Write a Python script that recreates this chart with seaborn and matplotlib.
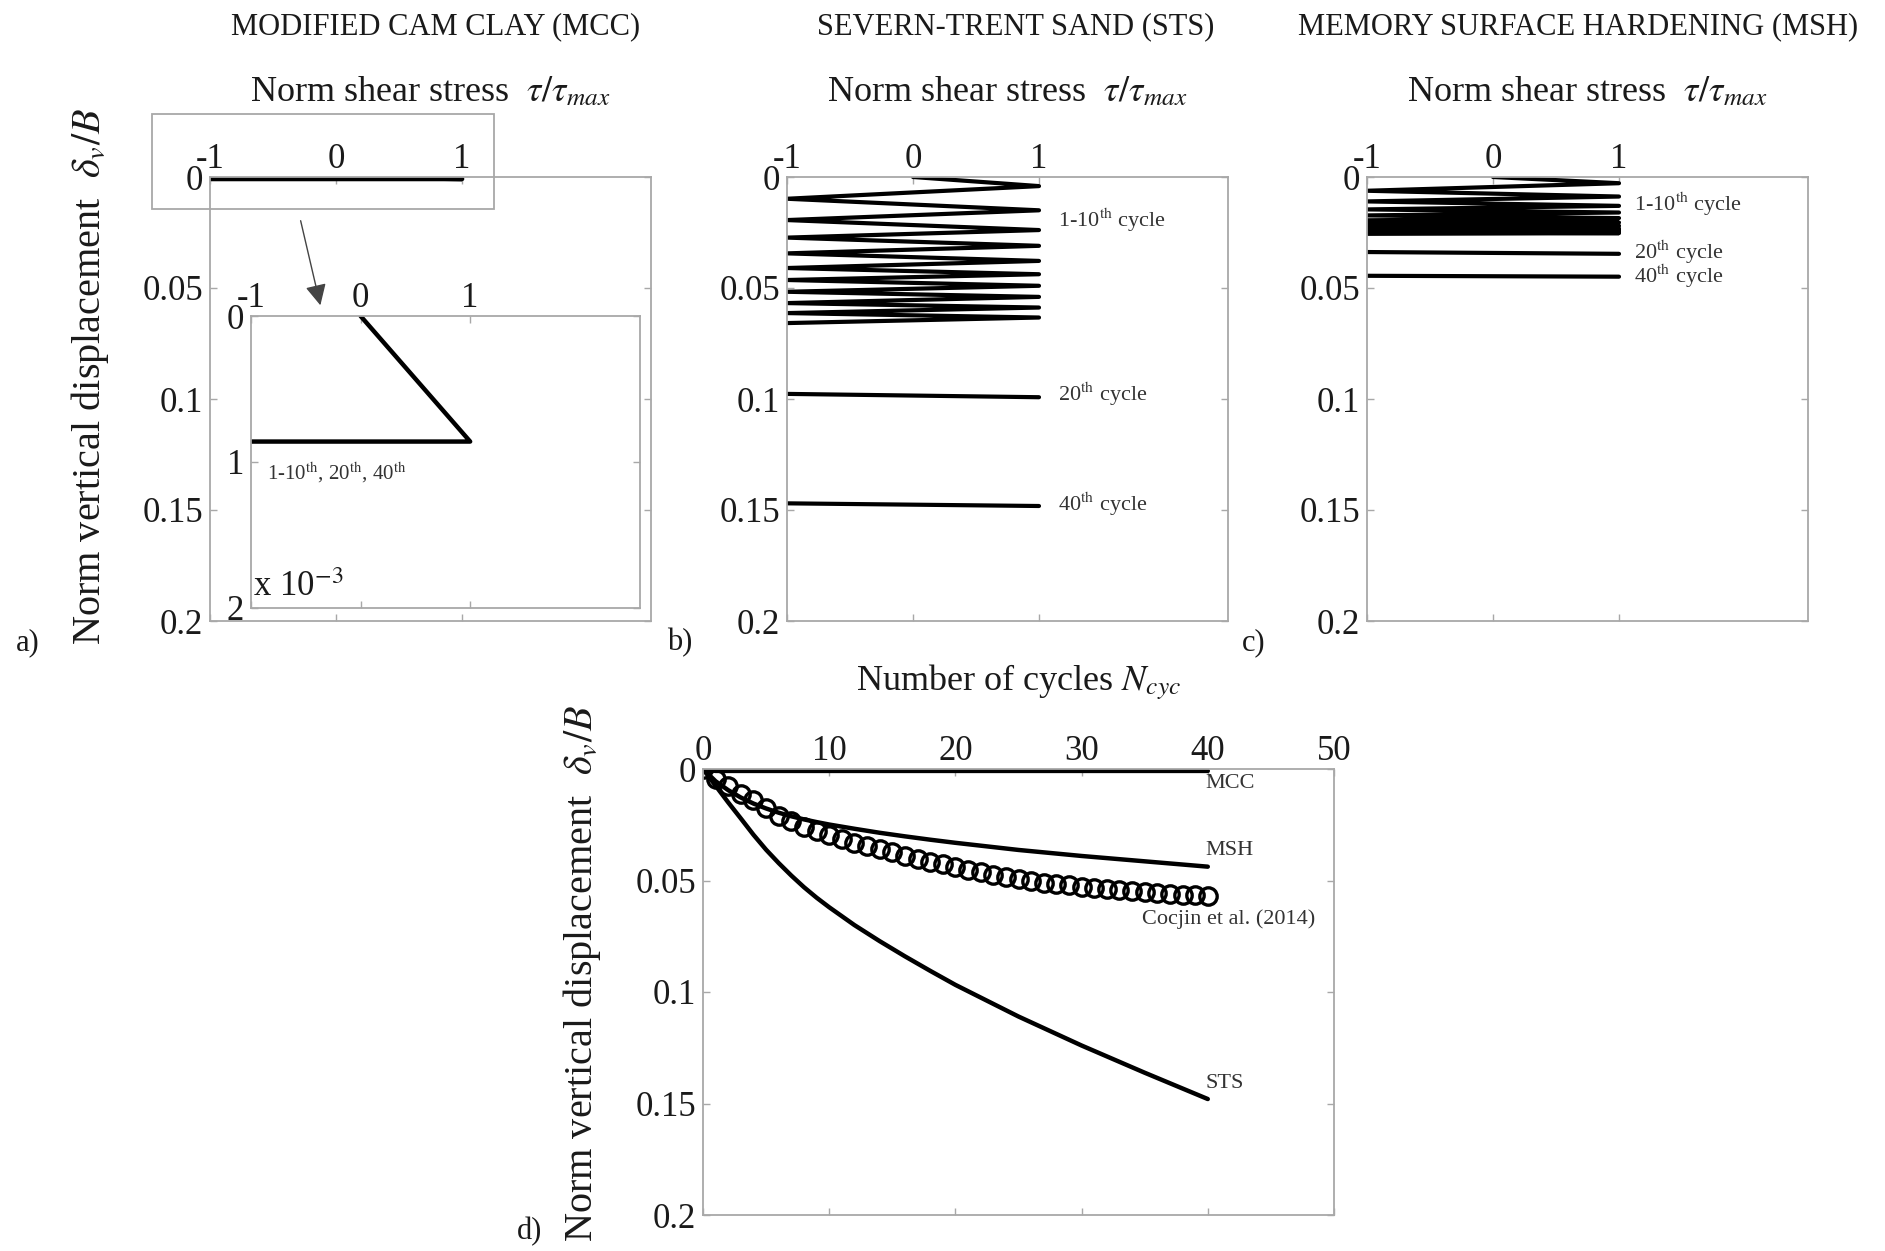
import numpy as np
import pandas as pd
import matplotlib
matplotlib.use("Agg")
import matplotlib.pyplot as plt
import matplotlib.patches as mpatches
import seaborn as sns

sns.set_theme(style="white")
plt.rcParams["font.family"] = ["Liberation Serif", "DejaVu Serif"]
plt.rcParams["mathtext.fontset"] = "stix"
plt.rcParams["axes.unicode_minus"] = False

# ---------------- data ----------------
tau_ticks = [-1, 0, 1]
disp_ticks = [0, 0.05, 0.1, 0.15, 0.2]
disp_ticklabels = ["0", "0.05", "0.1", "0.15", "0.2"]
cyc_ticks = [0, 10, 20, 30, 40, 50]
inset_ticks = [0, 1, 2]

# MCC stress path (tau/tau_max, delta_v/B)
mcc_tau = [0, 1, -1]
mcc_disp = [0, 0.00086, 0.00086]

# STS cycles 1-10: displacement at tau=+1 and tau=-1 turning points
sts_right = [0.0041, 0.0150, 0.0239, 0.0310, 0.0378, 0.0438, 0.0490, 0.0540, 0.0588, 0.0633]
sts_left = [0.0098, 0.0194, 0.0273, 0.0344, 0.0410, 0.0464, 0.0517, 0.0568, 0.0613, 0.0658]
sts_c20 = [0.0977, 0.0992]
sts_c40 = [0.1470, 0.1482]

# MSH cycles 1-10
msh_right = [0.0028, 0.0088, 0.0130, 0.0160, 0.0185, 0.0205, 0.0220, 0.0233, 0.0244, 0.0253]
msh_left = [0.0062, 0.0110, 0.0146, 0.0173, 0.0195, 0.0213, 0.0227, 0.0239, 0.0249, 0.0256]
msh_c20 = [0.0338, 0.0346]
msh_c40 = [0.0445, 0.0449]

single_tau = [-1, 1]

# Panel d: accumulated displacement vs number of cycles
model_cycles = [0, 1, 2, 3, 4, 5, 6, 7, 8, 9, 10, 12, 14, 16, 18, 20, 25, 30, 35, 40]
sts_curve = [0, 0.0075, 0.0150, 0.0222, 0.0295, 0.0362, 0.0422, 0.0478, 0.0530, 0.0577,
             0.0620, 0.0700, 0.0772, 0.0840, 0.0905, 0.0968, 0.1110, 0.1240, 0.1362, 0.1480]
msh_curve = [0, 0.0055, 0.0095, 0.0128, 0.0155, 0.0177, 0.0196, 0.0212, 0.0226, 0.0238,
             0.0249, 0.0268, 0.0286, 0.0302, 0.0317, 0.0331, 0.0363, 0.0390, 0.0414, 0.0438]
mcc_cycles = [0, 1, 40]
mcc_curve = [0, 0.00086, 0.00086]
exp_cycles = list(range(41))
exp_disp = [0.0, 0.0045, 0.0078, 0.0110, 0.0140, 0.0175, 0.0210, 0.0235, 0.0260, 0.0280,
            0.0298, 0.0314, 0.0330, 0.0345, 0.0360, 0.0374, 0.0388, 0.0402, 0.0415, 0.0428,
            0.0440, 0.0452, 0.0463, 0.0474, 0.0485, 0.0495, 0.0503, 0.0510, 0.0516, 0.0522,
            0.0527, 0.0532, 0.0537, 0.0542, 0.0547, 0.0552, 0.0556, 0.0560, 0.0564, 0.0567,
            0.0570]


def zigzag(right, left):
    t, d = [0], [0]
    for r, l in zip(right, left):
        t += [1, -1]
        d += [r, l]
    return t, d


# ---------------- figure ----------------
W, H = 1885, 1251
fig = plt.figure(figsize=(W / 100, H / 100), dpi=100)
fig.patch.set_facecolor("white")

FRAME = "#a8a8a8"
TXT = "#1a1a1a"
TICKFS = 25
LABFS = 26
YLABFS = 29
SMALL = 16
LW = 3.0


def ax_at(l, t, r, b):
    return fig.add_axes([l / W, 1 - b / H, (r - l) / W, (b - t) / H])


def style(ax, xt, yt, ytl=None):
    ax.set_xticks(xt)
    ax.set_yticks(yt)
    if ytl is not None:
        ax.set_yticklabels(ytl)
    ax.tick_params(direction="in", top=True, bottom=True, left=True, right=True,
                   labeltop=True, labelbottom=False, labelleft=True,
                   color=FRAME, length=5, width=1.0, labelsize=TICKFS,
                   labelcolor=TXT)
    ax.tick_params(axis="x", pad=1)
    ax.tick_params(axis="y", pad=5)
    ax.xaxis.set_label_position("top")
    for s in ax.spines.values():
        s.set_color(FRAME)
        s.set_linewidth(1.3)
    ax.set_facecolor("white")
    ax.grid(False)


def draw_cycles(ax, right, left, c20, c40):
    t, d = zigzag(right, left)
    sns.lineplot(x=t, y=d, sort=False, estimator=None, ax=ax, color="black", lw=LW)
    sns.lineplot(x=single_tau, y=c20, sort=False, estimator=None, ax=ax, color="black", lw=LW)
    sns.lineplot(x=single_tau, y=c40, sort=False, estimator=None, ax=ax, color="black", lw=LW)


shear_label = r"Norm shear stress  $\tau/\tau_{max}$"
th = r"$^{\mathrm{th}}$"

# ---- panel a (MCC) ----
axa = ax_at(210, 177, 651, 621)
sns.lineplot(x=mcc_tau, y=mcc_disp, sort=False, estimator=None, ax=axa, color="black", lw=3.4)
axa.set_xlim(-1, 2.5)
axa.set_ylim(0.2, 0)
style(axa, tau_ticks, disp_ticks, disp_ticklabels)
axa.set_xlabel(shear_label, fontsize=LABFS, color=TXT, labelpad=30)
axa.set_ylabel("")

# zoom rectangle and arrow
fig.patches.append(mpatches.Rectangle((152 / W, 1 - 209 / H), (494 - 152) / W, (209 - 114) / H,
                                      transform=fig.transFigure, fill=False,
                                      edgecolor=FRAME, linewidth=1.3, zorder=5))
fig.add_artist(mpatches.FancyArrowPatch((300 / W, 1 - 218 / H), (321 / W, 1 - 308 / H),
                                        transform=fig.transFigure,
                                        arrowstyle="-|>,head_length=8,head_width=4",
                                        color="#444444", linewidth=1.0,
                                        mutation_scale=1.6, zorder=6))

# inset
axi = ax_at(251, 316, 640, 608)
sns.lineplot(x=mcc_tau, y=np.array(mcc_disp) * 1e3, sort=False, estimator=None, ax=axi,
             color="black", lw=3.2)
axi.set_xlim(-1, 2.55)
axi.set_ylim(2, 0)
style(axi, tau_ticks, inset_ticks)
axi.set_xlabel("")
axi.set_ylabel("")
axi.text(-0.85, 1.07, "1-10" + th + ", 20" + th + ", 40" + th, fontsize=15, color="#333333",
         ha="left", va="center")
axi.text(0.005, 0.015, r"x 10$^{-3}$", transform=axi.transAxes, fontsize=TICKFS,
         color=TXT, ha="left", va="bottom")

# ---- panel b (STS) ----
axb = ax_at(787, 177, 1228, 621)
draw_cycles(axb, sts_right, sts_left, sts_c20, sts_c40)
axb.set_xlim(-1, 2.5)
axb.set_ylim(0.2, 0)
style(axb, tau_ticks, disp_ticks, disp_ticklabels)
axb.set_xlabel(shear_label, fontsize=LABFS, color=TXT, labelpad=30)
axb.set_ylabel("")
axb.text(1.15, 0.0197, "1-10" + th + " cycle", fontsize=SMALL, color="#333333", va="center")
axb.text(1.15, 0.0980, "20" + th + " cycle", fontsize=SMALL, color="#333333", va="center")
axb.text(1.15, 0.1475, "40" + th + " cycle", fontsize=SMALL, color="#333333", va="center")

# ---- panel c (MSH) ----
axc = ax_at(1367, 177, 1808, 621)
draw_cycles(axc, msh_right, msh_left, msh_c20, msh_c40)
axc.set_xlim(-1, 2.5)
axc.set_ylim(0.2, 0)
style(axc, tau_ticks, disp_ticks, disp_ticklabels)
axc.set_xlabel(shear_label, fontsize=LABFS, color=TXT, labelpad=30)
axc.set_ylabel("")
axc.text(1.12, 0.0122, "1-10" + th + " cycle", fontsize=SMALL, color="#333333", va="center")
axc.text(1.12, 0.0340, "20" + th + " cycle", fontsize=SMALL, color="#333333", va="center")
axc.text(1.12, 0.0448, "40" + th + " cycle", fontsize=SMALL, color="#333333", va="center")

# ---- panel d ----
axd = ax_at(703, 769, 1334, 1215)
sns.lineplot(x=mcc_cycles, y=mcc_curve, sort=False, estimator=None, ax=axd, color="black", lw=3.2)
sns.lineplot(x=model_cycles, y=msh_curve, sort=False, estimator=None, ax=axd, color="black", lw=3.2)
sns.lineplot(x=model_cycles, y=sts_curve, sort=False, estimator=None, ax=axd, color="black", lw=3.2)
sns.lineplot(x=exp_cycles, y=exp_disp, sort=False, estimator=None, ax=axd, color="black",
             marker="o", linestyle="none", markersize=12.5, markerfacecolor="none",
             markeredgecolor="black", markeredgewidth=2.4)
axd.set_xlim(0, 50)
axd.set_ylim(0.2, 0)
style(axd, cyc_ticks, disp_ticks, disp_ticklabels)
axd.set_xlabel(r"Number of cycles $N_{cyc}$", fontsize=LABFS, color=TXT, labelpad=32)
axd.set_ylabel("")
axd.text(39.8, 0.0065, "MCC", fontsize=SMALL, color="#333333", va="center")
axd.text(39.8, 0.0366, "MSH", fontsize=SMALL, color="#333333", va="center")
axd.text(34.8, 0.0672, "Cocjin et al. (2014)", fontsize=SMALL, color="#333333", va="center")
axd.text(39.8, 0.1410, "STS", fontsize=SMALL, color="#333333", va="center")

# ---- titles, y labels, panel letters ----
fig.text(436 / W, 1 - 27 / H, "MODIFIED CAM CLAY (MCC)", fontsize=22, color=TXT,
         ha="center", va="center")
fig.text(1016 / W, 1 - 27 / H, "SEVERN-TRENT SAND (STS)", fontsize=22, color=TXT,
         ha="center", va="center")
fig.text(1578 / W, 1 - 27 / H, "MEMORY SURFACE HARDENING (MSH)", fontsize=22, color=TXT,
         ha="center", va="center")

ylab = r"Norm vertical displacement  $\delta_v/B$"
fig.text(90 / W, 1 - 377 / H, ylab, fontsize=YLABFS, color=TXT, rotation=90,
         ha="center", va="center")
fig.text(582 / W, 1 - 974 / H, ylab, fontsize=YLABFS, color=TXT, rotation=90,
         ha="center", va="center")

for lab, (px, py) in {"a)": (28, 643), "b)": (680, 643), "c)": (1254, 643), "d)": (530, 1232)}.items():
    fig.text(px / W, 1 - py / H, lab, fontsize=22, color=TXT, ha="center", va="center")

fig.savefig("out.png", dpi=100, facecolor="white")
